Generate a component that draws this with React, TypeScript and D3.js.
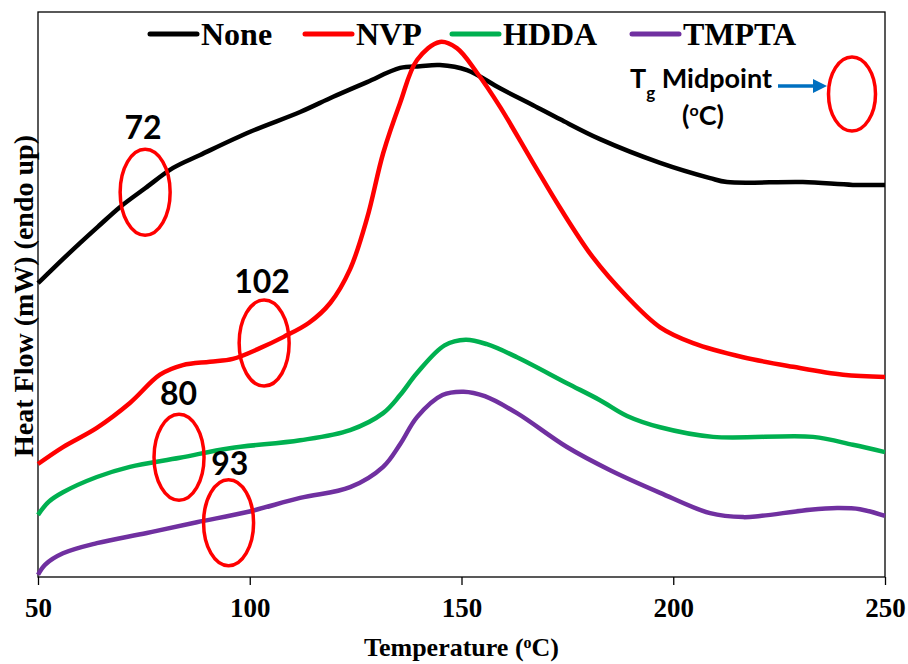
import React, { useEffect, useRef } from 'react';
import * as d3 from 'd3';

const seriesNames = ['None', 'NVP', 'HDDA', 'TMPTA'];
const seriesColors = ['#000000', '#ff0000', '#00b050', '#7030a0'];
const xTicks = [50, 100, 150, 200, 250];

// DSC traces: temperature (°C) and heat flow (arbitrary mW, offset per trace)
const noneTemp = [50.0, 53.0, 59.9, 64.6, 69.4, 75.3, 81.9, 88.3, 100.1, 111.9, 119.7, 127.7, 135.5, 140.2, 144.9, 151.3, 159.1, 166.9, 173.3, 182.7, 196.9, 208.7, 212.7, 230.6, 242.4, 250.0];
const noneFlow = [5.2, 5.42, 5.91, 6.23, 6.55, 6.88, 7.24, 7.47, 7.88, 8.23, 8.5, 8.76, 9.01, 9.04, 9.06, 8.97, 8.65, 8.35, 8.1, 7.75, 7.33, 7.06, 6.99, 6.99, 6.94, 6.94];

const nvpTemp = [50.0, 55.9, 63.9, 71.7, 78.8, 84.2, 90.6, 96.0, 102.4, 108.0, 114.0, 119.0, 123.7, 127.7, 131.5, 135.5, 139.5, 144.9, 148.9, 153.7, 159.1, 166.9, 173.3, 181.0, 189.1, 196.9, 204.7, 216.5, 228.3, 240.1, 250.0];
const nvpFlow = [2.0, 2.3, 2.64, 3.08, 3.58, 3.75, 3.81, 3.86, 4.05, 4.25, 4.5, 4.85, 5.45, 6.35, 7.5, 8.39, 9.15, 9.47, 9.36, 8.92, 8.32, 7.33, 6.53, 5.66, 4.96, 4.42, 4.14, 3.89, 3.72, 3.58, 3.54];

const hddaTemp = [50.0, 52.5, 55.9, 63.9, 71.7, 83.5, 95.3, 111.9, 123.7, 131.5, 135.5, 139.5, 146.0, 151.0, 156.0, 163.1, 174.9, 182.7, 189.1, 196.9, 209.4, 233.0, 242.4, 250.0];
const hddaFlow = [1.1, 1.33, 1.5, 1.77, 1.95, 2.11, 2.28, 2.42, 2.6, 2.9, 3.22, 3.61, 4.1, 4.2, 4.12, 3.89, 3.43, 3.13, 2.85, 2.65, 2.48, 2.48, 2.34, 2.21];

const tmptaTemp = [50.0, 51.7, 55.9, 63.9, 75.7, 87.5, 99.4, 111.9, 123.7, 131.5, 135.5, 139.5, 145.5, 150.5, 155.5, 163.1, 174.9, 185.1, 196.9, 208.7, 216.5, 220.5, 232.3, 238.7, 244.1, 250.0];
const tmptaFlow = [0.04, 0.22, 0.42, 0.6, 0.78, 0.97, 1.15, 1.4, 1.59, 1.95, 2.35, 2.83, 3.22, 3.28, 3.2, 2.9, 2.3, 1.89, 1.49, 1.13, 1.06, 1.08, 1.19, 1.22, 1.2, 1.08];

// Tg midpoint markers
const tgLabels = ['72', '102', '80', '93'];
const tgCircleTemp = [75.3, 103.4, 83.3, 95.0];
const tgCircleFlow = [6.81, 4.14, 2.12, 0.96];
const tgLabelTemp = [74.8, 102.9, 83.2, 95.3];
const tgLabelFlow = [7.75, 5.03, 3.04, 1.81];

const W = 908;
const H = 664;
const plot = { left: 38, right: 885, top: 12, bottom: 577 };

export default function App() {
  const svgRef = useRef<SVGSVGElement | null>(null);

  useEffect(() => {
    if (svgRef.current === null) return;
    const svg = d3.select(svgRef.current);
    svg.selectAll('*').remove();

    const x = d3.scaleLinear().domain([50, 250]).range([plot.left, plot.right]);
    const y = d3.scaleLinear().domain([0, 10]).range([plot.bottom, plot.top]);

    const serif = '"Liberation Serif", "Times New Roman", serif';
    const sans = 'Lato, "Open Sans", sans-serif';

    // frame
    svg
      .append('rect')
      .attr('x', plot.left)
      .attr('y', plot.top)
      .attr('width', plot.right - plot.left)
      .attr('height', plot.bottom - plot.top)
      .attr('fill', 'none')
      .attr('stroke', '#000')
      .attr('stroke-width', 1.3);

    // x axis
    const xAxis = svg
      .append('g')
      .attr('transform', 'translate(0,' + plot.bottom + ')')
      .call(d3.axisBottom(x).tickValues(xTicks).tickSize(8).tickFormat(d3.format('d')));
    xAxis.select('.domain').remove();
    xAxis.selectAll('line').attr('stroke', '#000').attr('stroke-width', 1.3);
    xAxis
      .selectAll('text')
      .attr('dy', null)
      .attr('y', 40)
      .attr('fill', '#000')
      .style('font-family', serif)
      .style('font-weight', 'bold')
      .style('font-size', '27px');

    // axis titles
    const xTitle = svg
      .append('text')
      .attr('x', (plot.left + plot.right) / 2)
      .attr('y', 656)
      .attr('text-anchor', 'middle')
      .style('font-family', serif)
      .style('font-weight', 'bold')
      .style('font-size', '26px');
    xTitle.append('tspan').text('Temperature  (');
    xTitle.append('tspan').attr('baseline-shift', 'super').style('font-size', '16px').text('o');
    xTitle.append('tspan').text('C)');

    svg
      .append('text')
      .attr('transform', 'translate(33,' + 296 + ') rotate(-90)')
      .attr('text-anchor', 'middle')
      .style('font-family', serif)
      .style('font-weight', 'bold')
      .style('font-size', '28px')
      .text('Heat Flow  (mW)  (endo up)');

    // traces
    const series = [
      { t: noneTemp, v: noneFlow },
      { t: nvpTemp, v: nvpFlow },
      { t: hddaTemp, v: hddaFlow },
      { t: tmptaTemp, v: tmptaFlow },
    ];
    const line = d3
      .line<[number, number]>()
      .x(d => x(d[0]))
      .y(d => y(d[1]))
      .curve(d3.curveCatmullRom.alpha(0.5));
    series.forEach((s, i) => {
      const pts: [number, number][] = s.t.map((t, j) => [t, s.v[j]]);
      svg
        .append('path')
        .datum(pts)
        .attr('d', line)
        .attr('fill', 'none')
        .attr('stroke', seriesColors[i])
        .attr('stroke-width', 4.5)
        .attr('stroke-linejoin', 'round');
    });

    // legend
    const legendX = [150, 305, 452, 632];
    seriesNames.forEach((name, i) => {
      const g = svg.append('g').attr('transform', 'translate(' + legendX[i] + ',0)');
      g.append('line')
        .attr('x1', 0)
        .attr('x2', 47)
        .attr('y1', 34)
        .attr('y2', 34)
        .attr('stroke', seriesColors[i])
        .attr('stroke-width', 5)
        .attr('stroke-linecap', 'round');
      g.append('text')
        .attr('x', 51)
        .attr('y', 45)
        .style('font-family', serif)
        .style('font-weight', 'bold')
        .style('font-size', '32px')
        .text(name);
    });

    // Tg circles and labels
    tgLabels.forEach((lab, i) => {
      svg
        .append('ellipse')
        .attr('cx', x(tgCircleTemp[i]))
        .attr('cy', y(tgCircleFlow[i]))
        .attr('rx', 25)
        .attr('ry', 43)
        .attr('fill', 'none')
        .attr('stroke', '#ff0000')
        .attr('stroke-width', 3.5);
      svg
        .append('text')
        .attr('x', x(tgLabelTemp[i]))
        .attr('y', y(tgLabelFlow[i]))
        .attr('text-anchor', 'middle')
        .style('font-family', sans)
        .style('font-weight', 'bold')
        .style('font-size', '32px')
        .text(lab);
    });

    // Tg midpoint key
    const key = svg
      .append('text')
      .attr('x', 630)
      .attr('y', 88)
      .style('font-family', sans)
      .style('font-weight', 'bold')
      .style('font-size', '27px');
    key.append('tspan').text('T');
    key.append('tspan').attr('baseline-shift', 'sub').style('font-size', '17px').text('g');
    key.append('tspan').text(' Midpoint');

    const keyUnit = svg
      .append('text')
      .attr('x', 703)
      .attr('y', 125)
      .attr('text-anchor', 'middle')
      .style('font-family', sans)
      .style('font-weight', 'bold')
      .style('font-size', '27px');
    keyUnit.append('tspan').text('(');
    keyUnit.append('tspan').attr('baseline-shift', 'super').style('font-size', '16px').text('o');
    keyUnit.append('tspan').text('C)');

    svg
      .append('line')
      .attr('x1', 778)
      .attr('x2', 815)
      .attr('y1', 86)
      .attr('y2', 86)
      .attr('stroke', '#0070c0')
      .attr('stroke-width', 3.5);
    svg
      .append('path')
      .attr('d', 'M813,79 L827,86 L813,93 Z')
      .attr('fill', '#0070c0');

    svg
      .append('ellipse')
      .attr('cx', 852)
      .attr('cy', 94)
      .attr('rx', 23.5)
      .attr('ry', 37)
      .attr('fill', 'none')
      .attr('stroke', '#ff0000')
      .attr('stroke-width', 3.5);
  }, []);

  return (
    <svg
      ref={svgRef}
      width={W}
      height={H}
      style={{ position: 'absolute', left: 0, top: 0, background: '#fff' }}
    />
  );
}
